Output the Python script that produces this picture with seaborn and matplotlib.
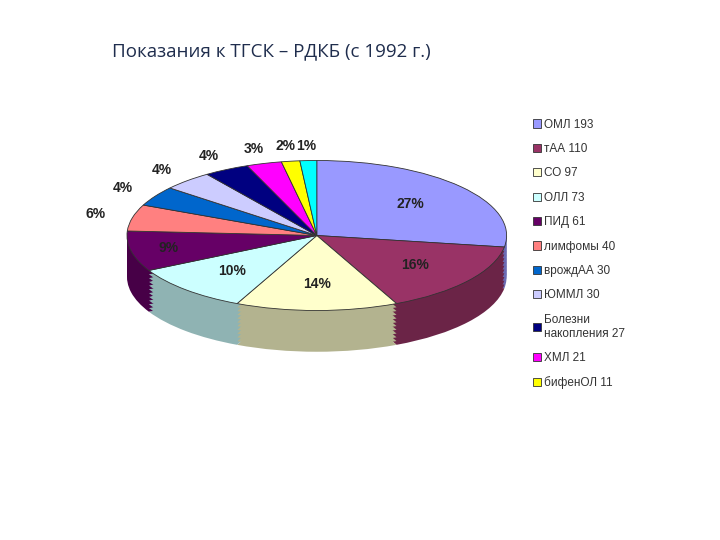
import matplotlib
matplotlib.use("Agg")
import matplotlib.pyplot as plt
import seaborn as sns
import numpy as np
from matplotlib.colors import to_rgb

sns.set_theme(style="white")
plt.rcParams['font.family'] = ['Liberation Sans', 'DejaVu Sans']

labels = ["ОМЛ 193", "тАА 110", "СО 97", "ОЛЛ 73", "ПИД 61", "лимфомы 40", "врождАА 30",
          "ЮММЛ 30", "Болезни\nнакопления 27", "ХМЛ 21", "бифенОЛ 11", ""]
values = [193, 110, 97, 73, 61, 40, 30, 30, 27, 21, 11, 10]
pct_labels = ["27%", "16%", "14%", "10%", "9%", "6%", "4%", "4%", "4%", "3%", "2%", "1%"]
colors = ["#9999ff", "#993366", "#ffffcc", "#ccffff", "#660066", "#ff8080", "#0066cc",
          "#ccccff", "#000080", "#ff00ff", "#ffff00", "#00ffff"]

def darker(c, f=0.7):
    r, g, b = to_rgb(c)
    return (r*f, g*f, b*f)

fig = plt.figure(figsize=(7.2, 5.4), dpi=100)
ax = fig.add_axes([0.15, 0.30, 0.58, 0.45])
depth = 0.55
for off in np.linspace(-depth, 0, 12)[:-1]:
    ax.pie(values, colors=[darker(c) for c in colors], startangle=90, counterclock=False,
           center=(0, off), wedgeprops=dict(linewidth=0))
wedges, _ = ax.pie(values, colors=colors, startangle=90, counterclock=False,
                   wedgeprops=dict(linewidth=0.6, edgecolor="#333333"))
ax.set_aspect('auto')
ax.set_xlim(-1.1, 1.1)
ax.set_ylim(-1.9, 1.34)
ax.axis('off')

for i, w in enumerate(wedges):
    ang = np.deg2rad((w.theta1 + w.theta2) / 2)
    r = 0.65 if values[i] >= 60 else 1.2
    if i == 4:
        r = 0.8
    ax.text(r*np.cos(ang), r*np.sin(ang), pct_labels[i], ha='center', va='center',
            fontsize=10, fontweight='bold', color='#222222')

handles = wedges[:11]
leg = fig.legend(handles, labels[:11], loc='upper left', bbox_to_anchor=(0.725, 0.80),
                 frameon=False, fontsize=8.5, handlelength=0.7, handleheight=0.7,
                 labelspacing=1.05, handletextpad=0.3)
for t in leg.get_texts():
    t.set_color('#333333')

fig.text(0.155, 0.905, "Показания к ТГСК – РДКБ (с 1992 г.)", fontsize=13.5,
         color='#1f2d4d', ha='left', va='center',
         family=['Open Sans', 'DejaVu Sans'])
fig.savefig("out.png", dpi=100)
